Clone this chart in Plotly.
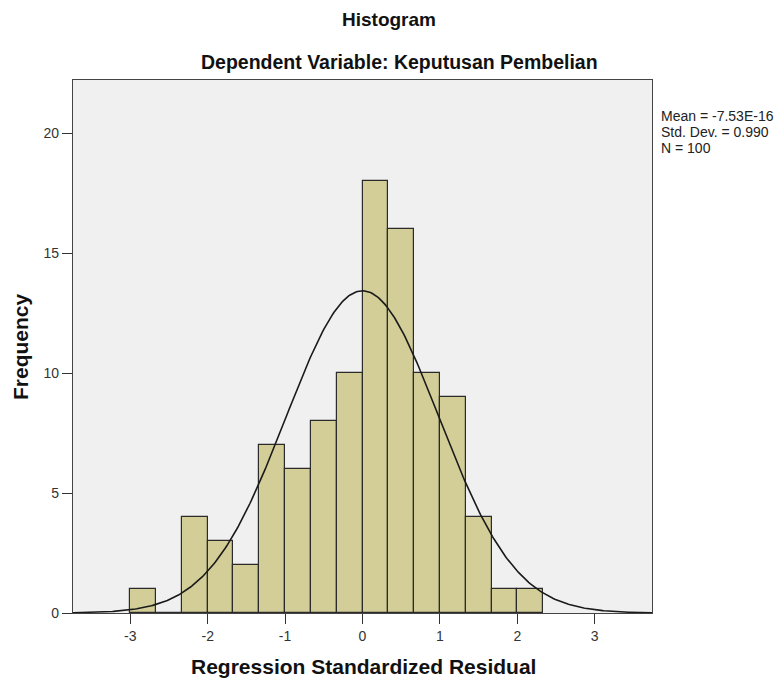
import numpy as np
import plotly.graph_objects as go

bin_start = [-3.0, -2.6667, -2.3333, -2.0, -1.6667, -1.3333, -1.0, -0.6667, -0.3333,
             0.0, 0.3333, 0.6667, 1.0, 1.3333, 1.6667, 2.0]
counts = [1, 0, 4, 3, 2, 7, 6, 8, 10, 18, 16, 10, 9, 4, 1, 1]
bin_width = 1 / 3
mean_val = -7.53e-16
std_val = 0.990
n_val = 100

x_ticks = [-3, -2, -1, 0, 1, 2, 3]
x_tick_text = ["-3", "-2", "-1", "0", "1", "2", "3"]
y_ticks = [0, 5, 10, 15, 20]
stats_lines = ["Mean = -7.53E-16", "Std. Dev. = 0.990", "N = 100"]

centers = [b + bin_width / 2 for b in bin_start]
xs = np.linspace(-3.74, 3.74, 400)
ys = n_val * bin_width * np.exp(-0.5 * ((xs - mean_val) / std_val) ** 2) / (std_val * np.sqrt(2 * np.pi))

fig = go.Figure()
fig.add_trace(go.Bar(
    x=centers, y=counts, width=bin_width,
    marker=dict(color="#d3ce98", line=dict(color="#2b2b2b", width=1.2)),
    showlegend=False, hoverinfo="x+y",
))
fig.add_trace(go.Scatter(
    x=xs, y=ys, mode="lines", line=dict(color="#1a1a1a", width=1.6),
    showlegend=False,
))

font_family = "Liberation Sans, Arial, sans-serif"
annotations = [
    dict(text="<b>Histogram</b>", xref="paper", yref="paper", x=0.546, y=1.0,
         yshift=61, showarrow=False, font=dict(size=19, color="#111111"),
         xanchor="center", yanchor="middle"),
    dict(text="<b>Dependent Variable: Keputusan Pembelian</b>", xref="paper", yref="paper",
         x=0.564, y=1.0, yshift=18, showarrow=False,
         font=dict(size=19.5, color="#111111"), xanchor="center", yanchor="middle"),
    dict(text="<b>Frequency</b>", xref="paper", yref="paper", x=0, xshift=-52.5, y=0.5,
         textangle=-90, showarrow=False, font=dict(size=21, color="#111111"),
         xanchor="center", yanchor="middle"),
    dict(text="<b>Regression Standardized Residual</b>", xref="paper", yref="paper",
         x=0.5, xshift=1, y=0, yshift=-53, showarrow=False,
         font=dict(size=21, color="#111111"), xanchor="center", yanchor="middle"),
]
for i, line in enumerate(stats_lines):
    annotations.append(dict(
        text=line, xref="paper", yref="paper", x=1.0, xshift=7, y=1.0,
        yshift=-36 - 16 * i, showarrow=False, align="left",
        font=dict(size=14, color="#222222"), xanchor="left", yanchor="middle"))

fig.update_layout(
    width=784, height=679,
    margin=dict(l=64.7, r=139.7, t=72, b=74.3, autoexpand=False),
    paper_bgcolor="white", plot_bgcolor="#f0f0f0",
    font=dict(family=font_family, size=14, color="#333333"),
    bargap=0,
    xaxis=dict(range=[-3.74, 3.74], tickvals=x_ticks, ticktext=x_tick_text,
               ticks="outside", ticklen=10, tickcolor="#333333", showgrid=False,
               zeroline=False, showline=True, linecolor="#444444", linewidth=1.2,
               mirror=True, tickfont=dict(size=14, color="#333333")),
    yaxis=dict(range=[0, 22.22], tickvals=y_ticks, ticks="outside", ticklen=10,
               tickcolor="#333333", showgrid=False, zeroline=False,
               showline=True, linecolor="#444444", linewidth=1.2, mirror=True,
               tickfont=dict(size=14, color="#333333")),
    annotations=annotations,
)

fig.write_html("out.html")
